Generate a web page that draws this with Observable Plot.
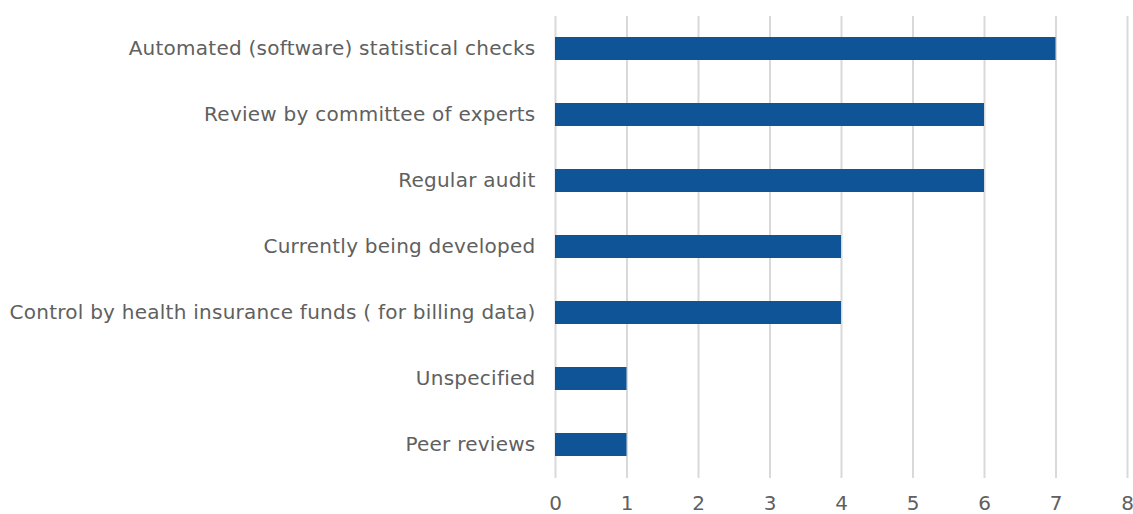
<!DOCTYPE html>
<html><head><meta charset="utf-8">
<script src="https://cdn.jsdelivr.net/npm/d3@7"></script>
<script src="https://cdn.jsdelivr.net/npm/@observablehq/plot@0.6"></script>
<style>body{margin:0;background:#fff} svg g[aria-label="y-axis tick label"] text{letter-spacing:0.25px}</style>
</head><body><div id="chart"></div>
<script>
const categories = [
  "Automated (software) statistical checks",
  "Review by committee of experts",
  "Regular audit",
  "Currently being developed",
  "Control by health insurance funds ( for billing data)",
  "Unspecified",
  "Peer reviews"
];
const values = [7, 6, 6, 4, 4, 1, 1];
const xTicks = [0, 1, 2, 3, 4, 5, 6, 7, 8];
const data = categories.map((c, i) => ({category: c, value: values[i]}));

const chart = Plot.plot({
  width: 1133,
  height: 514,
  marginLeft: 555,
  marginRight: 6,
  marginTop: 16,
  marginBottom: 36,
  style: {fontFamily: "'DejaVu Sans', sans-serif", fontSize: "20px", color: "#606060", background: "#fff"},
  x: {domain: [0, 8], ticks: xTicks, label: null},
  y: {domain: categories, label: null, paddingInner: 0.65, paddingOuter: 0.325},
  marks: [
    Plot.gridX(xTicks, {stroke: "#d9d9d9", strokeOpacity: 1, strokeWidth: 2}),
    Plot.barX(data, {x: "value", y: "category", fill: "#0f5496"}),
    Plot.axisX({ticks: xTicks, tickSize: 0, tickPadding: 17, label: null, fontSize: 20}),
    Plot.axisY({tickSize: 0, tickPadding: 20, label: null, fontSize: 20})
  ]
});
document.getElementById("chart").appendChild(chart);
</script>
</body></html>
